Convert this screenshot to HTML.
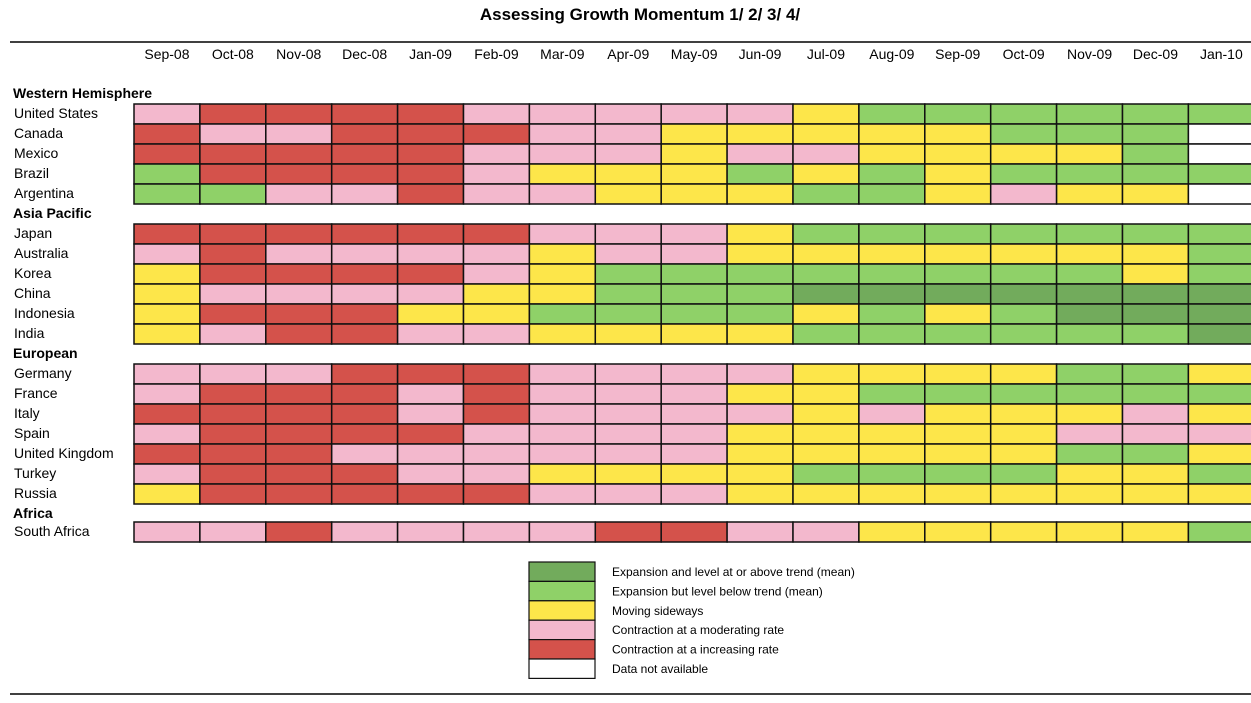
<!DOCTYPE html>
<html><head><meta charset="utf-8"><style>
body{margin:0;background:#fff;width:1251px;height:698px;overflow:hidden;font-family:"Liberation Sans",Arial,sans-serif;}
</style></head><body>
<svg id="chart" width="1251" height="698" xmlns="http://www.w3.org/2000/svg" font-family="Liberation Sans, Arial, sans-serif">
<text x="640" y="20" text-anchor="middle" font-size="17" font-weight="bold">Assessing Growth Momentum 1/ 2/ 3/ 4/</text>
<line x1="10" y1="42" x2="1251" y2="42" stroke="#000" stroke-width="1.5"/>
<line x1="10" y1="694" x2="1251" y2="694" stroke="#000" stroke-width="1.5"/>
<g id="grid"></g>
<g id="legend"></g>
</svg>
<script>
const months=["Sep-08","Oct-08","Nov-08","Dec-08","Jan-09","Feb-09","Mar-09","Apr-09","May-09","Jun-09","Jul-09","Aug-09","Sep-09","Oct-09","Nov-09","Dec-09","Jan-10"];
const groups=["Western Hemisphere","Asia Pacific","European","Africa"];
const countries=["United States","Canada","Mexico","Brazil","Argentina","Japan","Australia","Korea","China","Indonesia","India","Germany","France","Italy","Spain","United Kingdom","Turkey","Russia","South Africa"];
const countryGroup=[0,0,0,0,0,1,1,1,1,1,1,2,2,2,2,2,2,2,3];
// G=above trend expansion, L=expansion below trend, Y=sideways, P=moderating contraction, R=increasing contraction, W=n/a
const statusRows=[
"PRRRRPPPPPYLLLLLL",
"RPPRRRPPYYYYYLLLW",
"RRRRRPPPYPPYYYYLW",
"LRRRRPYYYLYLYLLLL",
"LLPPRPPYYYLLYPYYW",
"RRRRRRPPPYLLLLLLL",
"PRPPPPYPPYYYYYYYL",
"YRRRRPYLLLLLLLLYL",
"YPPPPYYLLLGGGGGGG",
"YRRRYYLLLLYLYLGGG",
"YPRRPPYYYYLLLLLLG",
"PPPRRRPPPPYYYYLLY",
"PRRRPRPPPYYLLLLLL",
"RRRRPRPPPPYPYYYPY",
"PRRRRPPPPYYYYYPPP",
"RRRPPPPPPYYYYYLLY",
"PRRRPPYYYYLLLLYYL",
"YRRRRRPPPYYYYYYYY",
"PPRPPPPRRPPYYYYYL"];
const legendCodes=["G","L","Y","P","R","W"];
const legendLabels=["Expansion and level at or above trend (mean)","Expansion but level below trend (mean)","Moving sideways","Contraction at a moderating rate","Contraction at a increasing rate","Data not available"];

const colors={G:"#72ab5c",L:"#8fd168",Y:"#fde64a",P:"#f3b8cd",R:"#d4524b",W:"#ffffff"};
const NS="http://www.w3.org/2000/svg";
const g=document.getElementById("grid");
const x0=134,cw=65.9,ch=20;
function xPos(i){return x0+i*cw;}
function mk(tag,attrs,parent){const e=document.createElementNS(NS,tag);for(const k in attrs)e.setAttribute(k,attrs[k]);parent.appendChild(e);return e;}
months.forEach((m,i)=>{
  const t=mk("text",{x:xPos(i)+cw/2,y:59,"text-anchor":"middle","font-size":"14"},g);
  
  
  t.textContent=m;
});
let y=84,prev=-1;
countries.forEach((c,r)=>{
  if(countryGroup[r]!==prev){
    prev=countryGroup[r];
    const h=mk("text",{x:13,y:y+14,"font-size":"14","font-weight":"bold"},g);
    
    
    h.textContent=groups[prev];
    y+=20;
    if(prev===3)y-=2;
  }
  const lab=mk("text",{x:14,y:y+14,"font-size":"14"},g);
  
  
  lab.textContent=c;
  const row=statusRows[r];
  for(let i=0;i<months.length;i++){
    const cell=mk("rect",{x:xPos(i),y:y,width:cw,height:ch,fill:colors[row[i]],stroke:"#111","stroke-width":"1.5"},g);
    
    
  }
  y+=ch;
});
const lg=document.getElementById("legend");
legendCodes.forEach((code,i)=>{
  const ly=562+i*19.4;
  const r=mk("rect",{x:529,y:ly,width:66,height:19.4,fill:colors[code],stroke:"#111","stroke-width":"1.2"},lg);
  
  
  const t=mk("text",{x:612,y:ly+14,"font-size":"12"},lg);
  
  
  t.textContent=legendLabels[i];
});
</script>
</body></html>
